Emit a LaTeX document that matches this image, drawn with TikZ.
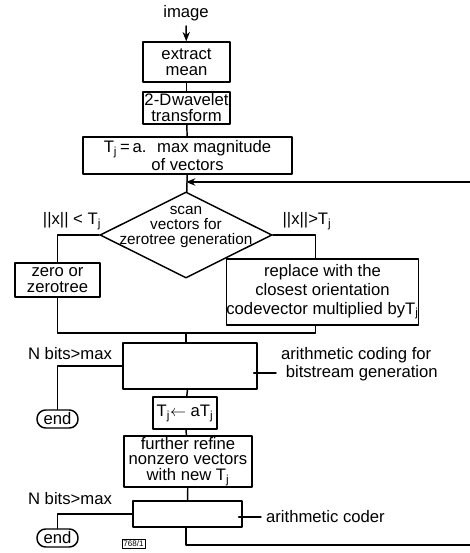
\documentclass[tikz,border=0pt]{standalone}
\usepackage{fontspec}
\setmainfont{Liberation Sans}
\usetikzlibrary{shapes.geometric,calc,arrows.meta}
\begin{document}
\begin{tikzpicture}[x=0.75pt,y=-0.75pt,font=\fontsize{12.5}{12}\selectfont,line join=round,line cap=round,>={Stealth[length=7pt,width=5.5pt]},line width=1.1pt,
	box/.style={draw,inner sep=0pt,align=center},
	sz/.style 2 args={minimum width=#1*0.75pt,minimum height=#2*0.75pt},
	endbox/.style={draw,rounded corners=6.5pt,inner sep=0pt,minimum width=41*0.75pt,minimum height=18*0.75pt}]
	\useasboundingbox (0,0) rectangle (470,553);
	% main column
	\node (img) at (186,13) {image};
	\node[box,sz={87}{40}] (mean) at (186.5,62) {extract\\mean};
	\node[box,sz={87}{32}] (wav) at (186.5,108) {2-D\kern0.5pt wavelet\\transform};
	\node[box,sz={209}{37}] (thr) at (187.5,155.5) {T\textsubscript{j}\,=\,a. \ max magnitude\\of vectors};
	\node[diamond,draw,inner sep=0pt,sz={172}{86}] (scan) at (186,235) {};
	\node[align=center,font=\fontsize{11.5}{11.5}\selectfont] (scantxt) at (186,227) {scan\\vectors for\\zerotree generation};
	\node (lt) at (72,221) {||x|| < T\textsubscript{j}};
	\node (gt) at (307,221) {||x||>T\textsubscript{j}};
	\node[box,sz={85}{34}] (zero) at (57.5,280) {zero or\\zerotree};
	\node[box,sz={187}{66},font=\fontsize{12.5}{14}\selectfont] (repl) at (322.5,292) {replace with the\\closest orientation\\codevector multiplied byT\textsubscript{j}};
	\node[box,sz={134}{46}] (arith) at (190,366) {};
	\node[box,sz={64}{32}] (upd) at (185,413) {T\textsubscript{j}$\leftarrow$ aT\textsubscript{j}};
	\node[box,sz={128}{51},font=\fontsize{12.5}{11.5}\selectfont] (refine) at (188,461.5) {further refine\\nonzero vectors\\with new T\textsubscript{j}};
	\node[box,sz={109}{26}] (coder) at (187.5,514) {};
	% side labels
	\node (nb1) at (70,354) {N bits>max};
	\node (nb2) at (70,499) {N bits>max};
	\node[endbox] (end1) at (57.5,419) {end};
	\node[endbox] (end2) at (57.5,538) {end};
	\node[align=left,anchor=west,font=\fontsize{12.5}{13.5}\selectfont] (lab1) at (276,364) {arithmetic coding for\\\ bitstream generation};
	\node[anchor=west] (lab2) at (261,517) {arithmetic coder};
	\node[draw,line width=0.5pt,inner sep=1pt,font=\fontsize{6}{6}\selectfont] (fig) at (133.5,544) {768/1};
	\coordinate (ret) at (186,182);
	\coordinate (rin) at (470,182);
	\coordinate (join) at (186,333);
	\coordinate (bot) at (186,545);
	\coordinate (rout) at (470,545);
	% connectors
	\draw[->] (img) -- (mean);
	\foreach \a/\b in {mean/wav, wav/thr, thr/scan} \draw (\a) -- (\b);
	\draw[->] (rin) -- (ret);
	\draw (scan.west) -| (zero.north);
	\draw (scan.east) -| ($(repl.north)+(-7,0)$);
	\draw (zero.south) |- (join) -| ($(repl.south)+(-7,0)$);
	\draw (join) -- (join |- arith.north);
	\draw (arith.west) -| (end1.north);
	\draw ($(arith.east)+(-4,7)$) -- (lab1.west |- {$(arith.east)+(0,7)$});
	\foreach \a/\b in {arith/upd, upd/refine, refine/coder} \draw (\a) -- (\b);
	\draw (coder.west) -| (end2.north);
	\draw ($(coder.east)+(-4,3)$) -- (lab2.west |- {$(coder.east)+(0,3)$});
	\draw (coder.south -| bot) -- (bot) -- (rout);
\end{tikzpicture}
\end{document}
